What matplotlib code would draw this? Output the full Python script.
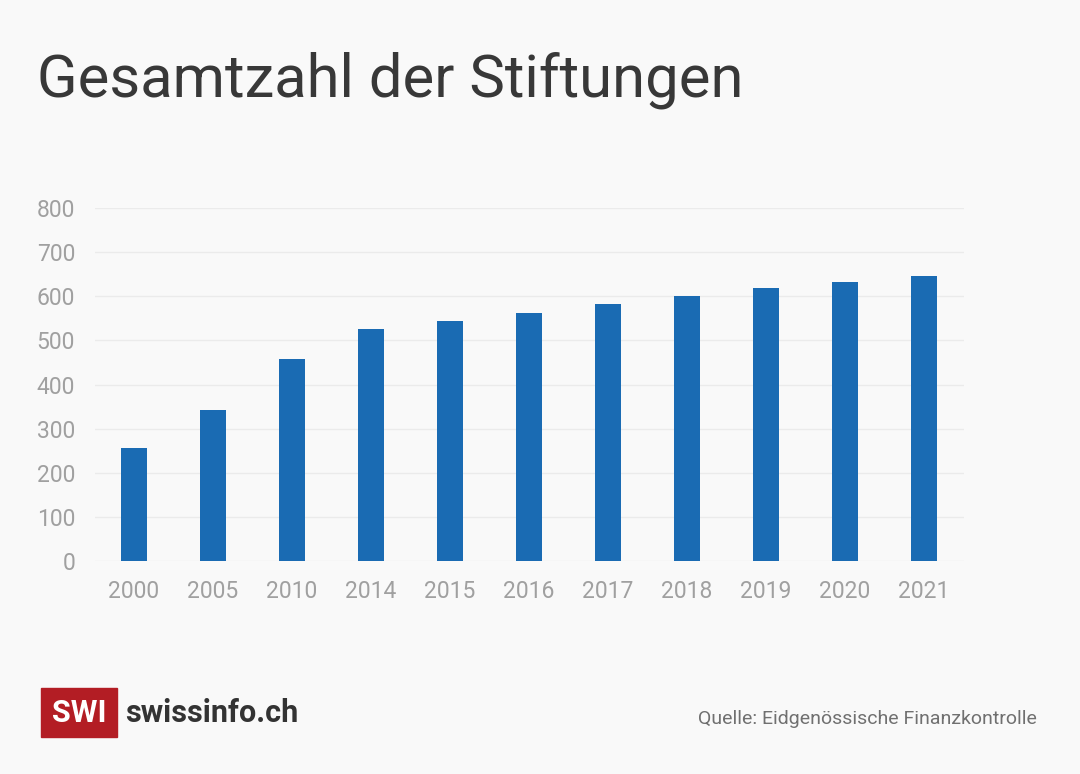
import matplotlib
matplotlib.use("Agg")
import matplotlib.pyplot as plt
from matplotlib.patches import Rectangle

years = ["2000", "2005", "2010", "2014", "2015", "2016", "2017", "2018", "2019", "2020", "2021"]
counts = [256, 342, 457, 526, 544, 562, 582, 600, 618, 632, 646]
y_ticks = [0, 100, 200, 300, 400, 500, 600, 700, 800]

title = "Gesamtzahl der Stiftungen"
source = "Quelle: Eidgenössische Finanzkontrolle"

BG = "#f9f9f9"
BAR = "#1a6bb3"
TICK = "#a0a0a0"

plt.rcParams["font.family"] = ["Roboto", "DejaVu Sans"]

W, H = 1080, 774
fig = plt.figure(figsize=(W / 100, H / 100), dpi=100, facecolor=BG)

# axes in pixel coords: left 94.5, right 963.5, y0 at 561, 800 at 208
ax = fig.add_axes([94.5 / W, (H - 561) / H, (963.5 - 94.5) / W, (561 - 208) / H])
ax.set_facecolor(BG)
x = range(len(years))
ax.bar(x, counts, width=0.33, color=BAR, zorder=3)
ax.set_xlim(-0.5, len(years) - 0.5)
ax.set_ylim(0, 800)
ax.set_yticks(y_ticks)
ax.set_xticks(list(x))
ax.set_xticklabels(years)
ax.yaxis.grid(True, color="#ebebeb", linewidth=1, zorder=0)
for s in ax.spines.values():
    s.set_visible(False)
ax.tick_params(axis="both", length=0, labelsize=16.5, labelcolor=TICK)
ax.tick_params(axis="y", pad=14)
ax.tick_params(axis="x", pad=14)

fig.text(37 / W, 1 - 80 / H, title, fontsize=43, color="#383838",
         va="center", ha="left")

# logo
fig.patches.append(Rectangle((41 / W, 1 - 737 / H), 76 / W, 49 / H,
                             transform=fig.transFigure, color="#b31d24", zorder=5))
fig.text(79 / W, 1 - 713 / H, "SWI", fontsize=22, fontweight="bold", color="white",
         ha="center", va="center", zorder=6)
fig.text(125 / W, 1 - 713 / H, "swissinfo.ch", fontsize=22, fontweight="bold",
         color="#333333", ha="left", va="center")

fig.text(1037 / W, 1 - 719 / H, source, fontsize=14, color="#707070",
         ha="right", va="center")

fig.savefig("out.png", dpi=100, facecolor=BG)
